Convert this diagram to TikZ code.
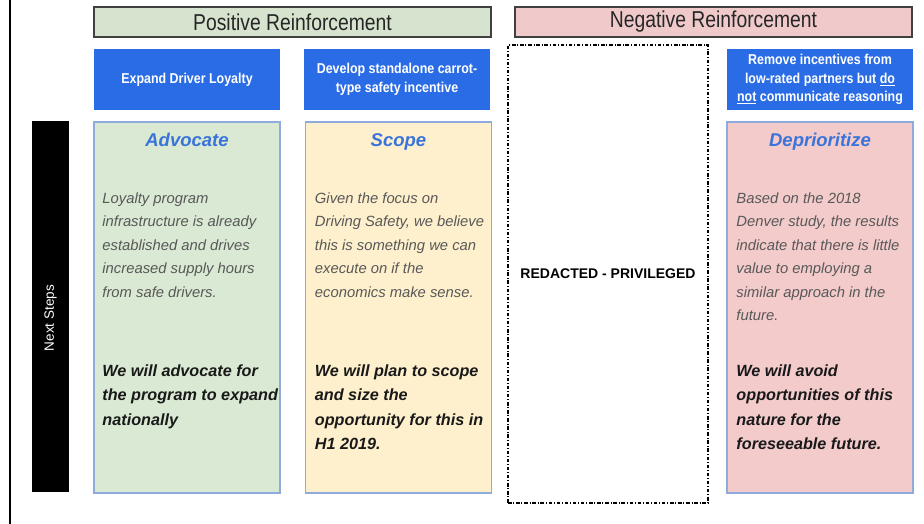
\documentclass[tikz,border=0pt]{standalone}
\usepackage{fontspec}
\setmainfont{Liberation Sans}
\newfontfamily\narrowfont{Liberation Sans}[FakeStretch=0.87]
\newfontfamily\hdrfont{Liberation Sans}[FakeStretch=0.84]
\usetikzlibrary{positioning}

\definecolor{hdrgreen}{HTML}{D6E4CF}
\definecolor{hdrred}{HTML}{F0CACA}
\definecolor{taskblue}{HTML}{2A6CE6}
\definecolor{colgreen}{HTML}{D9E9D3}
\definecolor{colyellow}{HTML}{FEF0CD}
\definecolor{colpink}{HTML}{F3CBCB}
\definecolor{colline}{HTML}{8FAADC}
\definecolor{titleblue}{HTML}{3A74DA}
\definecolor{bodygray}{HTML}{585858}

\tikzset{hdr/.style = {shape = rectangle,
                       draw = black!75,
                       line width = 1.5pt,
                       minimum width = 397pt,
                       minimum height = 30pt,
                       inner sep = 0pt,
                       text = black!85,
                       font = \hdrfont\fontsize{23}{25}\selectfont},
         taskbox/.style = {shape = rectangle,
                           fill = taskblue,
                           minimum width = 186pt,
                           minimum height = 61pt,
                           inner sep = 0pt,
                           align = center,
                           text = white,
                           font = \narrowfont\bfseries\fontsize{14.3}{18.5}\selectfont},
         colbox/.style = {shape = rectangle,
                          draw = colline,
                          line width = 1.5pt,
                          minimum width = 186pt,
                          minimum height = 371pt,
                          inner sep = 0pt},
         coltitle/.style = {anchor = base,
                            inner sep = 0pt,
                            text = titleblue,
                            font = \bfseries\itshape\fontsize{18.5}{20}\selectfont},
         bodytxt/.style = {inner sep = 0pt,
                           align = left,
                           text = bodygray,
                           font = \itshape\fontsize{14.8}{23.5}\selectfont},
         boldtxt/.style = {inner sep = 0pt,
                           align = left,
                           text = black!90,
                           font = \bfseries\itshape\fontsize{16.2}{24.5}\selectfont}}

\begin{document}
\begin{tikzpicture}[x=1pt, y=-1pt]
	\useasboundingbox (0,0) rectangle (924,524);
	% frame edge and side bar
	\coordinate (edgetop) at (9.5,0);
	\coordinate (edgebot) at (9.5,524);
	\draw[line width=2pt] (edgetop) -- (edgebot);
	\node[fill=black, minimum width=37pt, minimum height=371pt, inner sep=0pt] (bar) at (50.5,306.5) {};
	\node[rotate=90, text=white, inner sep=0pt, font=\fontsize{13.5}{15}\selectfont] (barlabel) at (50.5,318) {Next Steps};

	% headers
	\node[hdr, fill=hdrgreen] (poshdr) at (292.5,22) {Positive Reinforcement};
	\node[hdr, fill=hdrred] (neghdr) at (713.5,22) {Negative Reinforcement};

	% blue task boxes
	\node[taskbox] (task1) at (187,79.5) {Expand Driver Loyalty};
	\node[taskbox] (task2) at (397,79.5) {Develop standalone carrot-\\type safety incentive};
	\node[taskbox] (task4) at (820,79.5) {Remove incentives from\\low-rated partners but \underline{do}\\\underline{not} communicate reasoning};

	% redacted column
	\node[draw, line width=1.2pt, dash pattern=on 3.5pt off 1.8pt on 1pt off 1.8pt,
	      minimum width=200pt, minimum height=458pt, inner sep=0pt,
	      font=\bfseries\fontsize{14}{16}\selectfont] (redact) at (608,274) {REDACTED - PRIVILEGED};

	% columns
	\node[colbox, fill=colgreen] (advcol) at (187,307.5) {};
	\node[colbox, fill=colyellow] (scpcol) at (398.5,307.5) {};
	\node[colbox, fill=colpink] (depcol) at (820,307.5) {};

	\node[coltitle] (advtitle) at (187,147) {Advocate};
	\node[coltitle] (scptitle) at (398.5,147) {Scope};
	\node[coltitle] (deptitle) at (820,147) {Deprioritize};

	\node[bodytxt, below right=71pt and 9pt of advcol.north west] (advbody)
	  {Loyalty program\\infrastructure is already\\established and drives\\increased supply hours\\from safe drivers.};
	\node[boldtxt, below right=243pt and 9pt of advcol.north west] (advnext)
	  {We will advocate for\\the program to expand\\nationally};

	\node[bodytxt, below right=71pt and 10pt of scpcol.north west] (scpbody)
	  {Given the focus on\\Driving Safety, we believe\\this is something we can\\execute on if the\\economics make sense.};
	\node[boldtxt, below right=243pt and 10pt of scpcol.north west] (scpnext)
	  {We will plan to scope\\and size the\\opportunity for this in\\H1 2019.};

	\node[bodytxt, below right=71pt and 10pt of depcol.north west] (depbody)
	  {Based on the 2018\\Denver study, the results\\indicate that there is little\\value to employing a\\similar approach in the\\future.};
	\node[boldtxt, below right=243pt and 10pt of depcol.north west] (depnext)
	  {We will avoid\\opportunities of this\\nature for the\\foreseeable future.};
\end{tikzpicture}
\end{document}
